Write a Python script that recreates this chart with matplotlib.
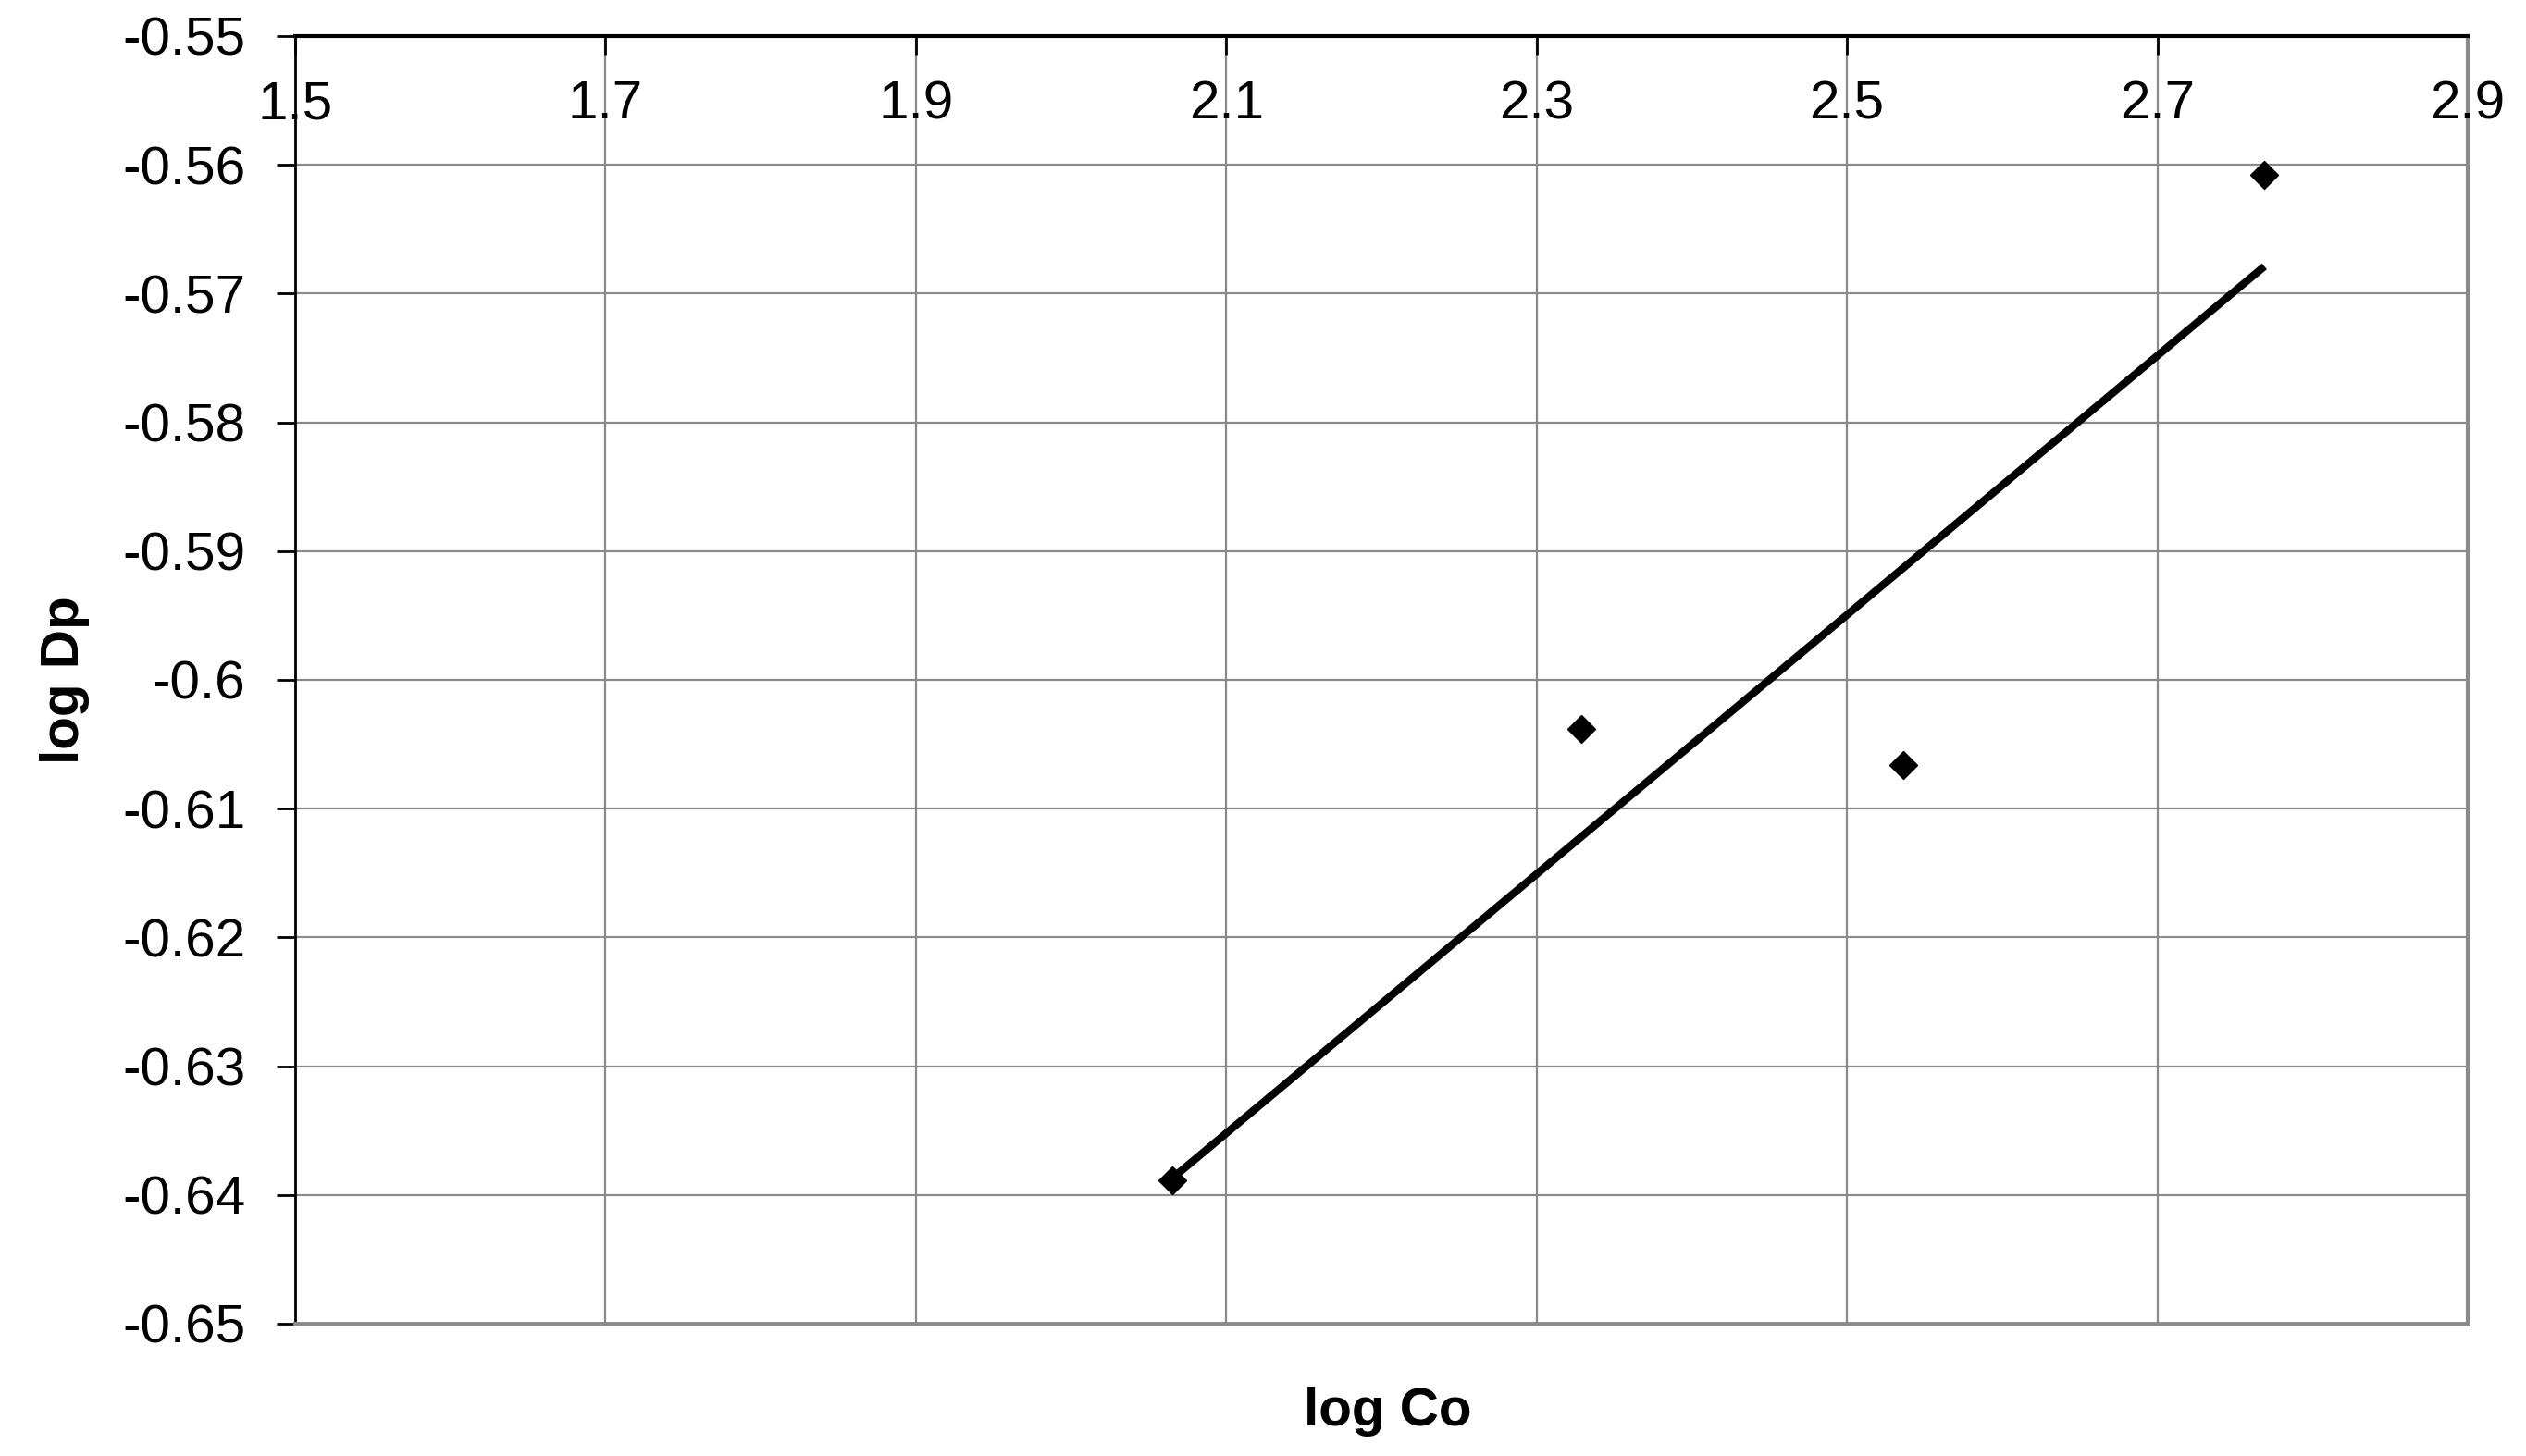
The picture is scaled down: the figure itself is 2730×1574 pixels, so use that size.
import numpy as np
import matplotlib
matplotlib.use("Agg")
import matplotlib.pyplot as plt

plt.rcParams['font.family'] = ['Liberation Sans', 'DejaVu Sans']

# Data
log_co = [2.065, 2.329, 2.536, 2.769]
log_dp = [-0.6389, -0.6038, -0.6066, -0.5608]
x_ticks = [1.5, 1.7, 1.9, 2.1, 2.3, 2.5, 2.7, 2.9]
x_tick_labels = ["1.5", "1.7", "1.9", "2.1", "2.3", "2.5", "2.7", "2.9"]
y_ticks = [-0.55, -0.56, -0.57, -0.58, -0.59, -0.60, -0.61, -0.62, -0.63, -0.64, -0.65]
y_tick_labels = ["-0.55", "-0.56", "-0.57", "-0.58", "-0.59", "-0.6", "-0.61",
                 "-0.62", "-0.63", "-0.64", "-0.65"]

fig = plt.figure(figsize=(27.3, 15.74), dpi=100)
ax = fig.add_axes([319/2730, 1-1431/1574, (2667-319)/2730, (1431-39)/1574])

ax.set_xlim(1.5, 2.9)
ax.set_ylim(-0.65, -0.55)

grid_c = '#8a8a8a'
ax.set_xticks(x_ticks)
ax.set_yticks(y_ticks)
ax.set_yticklabels(y_tick_labels, fontsize=42)
ax.grid(True, color=grid_c, linewidth=1.6)
ax.set_axisbelow(True)

# x axis: ticks on top pointing inward, labels inside the plot area
ax.tick_params(axis='x', bottom=False, labelbottom=False, top=True, labeltop=False,
               direction='in', length=14.5, width=2, color='black')
for v, lab in zip(x_ticks, x_tick_labels):
    ax.annotate(lab, xy=(v, 1), xycoords=ax.get_xaxis_transform(),
                xytext=(0, -34), textcoords='offset points',
                ha='center', va='top', fontsize=42, annotation_clip=False)

ax.tick_params(axis='y', direction='out', length=14.5, width=2, color='black', pad=24)

for s in ['top', 'left']:
    ax.spines[s].set_color('black')
ax.spines['top'].set_linewidth(3)
ax.spines['left'].set_linewidth(2)
ax.spines['bottom'].set_color(grid_c)
ax.spines['bottom'].set_linewidth(3.5)
ax.spines['right'].set_color(grid_c)
ax.spines['right'].set_linewidth(3)

# trendline (least squares fit)
coef = np.polyfit(log_co, log_dp, 1)
xs = np.array([min(log_co), max(log_co)])
ax.plot(xs, np.polyval(coef, xs), color='black', linewidth=6, solid_capstyle='butt', zorder=3)

ax.plot(log_co, log_dp, linestyle='none', marker='D', markersize=15,
        color='black', zorder=4)

ax.set_xlabel("log Co", fontsize=42, fontweight='bold')
ax.xaxis.set_label_coords(0.503, -0.068)
ax.xaxis.label.set_va('center')
ax.set_ylabel("log Dp", fontsize=42, fontweight='bold')
ax.yaxis.set_label_coords(-0.106, 0.5)
ax.yaxis.label.set_va('center')

fig.savefig("out.png", dpi=100, facecolor='white')
